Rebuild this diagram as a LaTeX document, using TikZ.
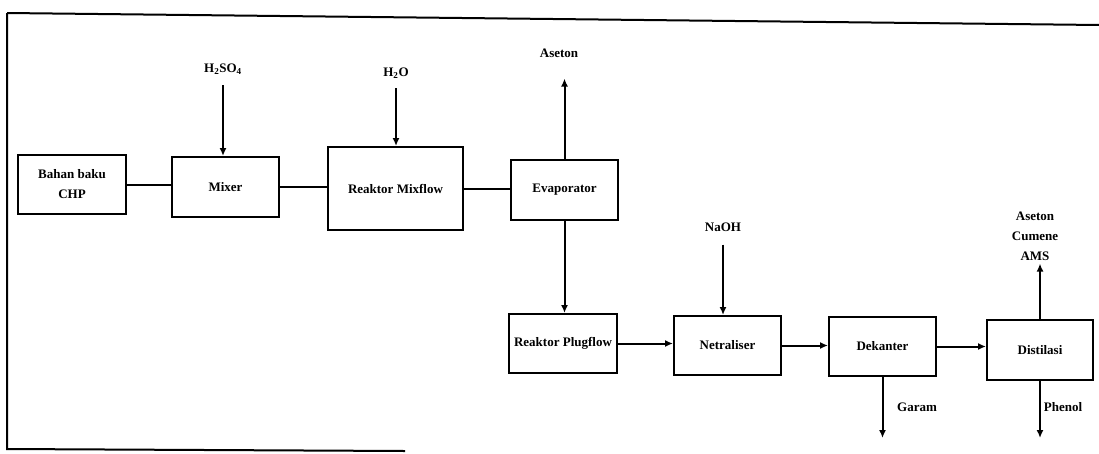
\documentclass[tikz,border=0pt]{standalone}
\usepackage{fontspec}
\setmainfont{Liberation Serif}
\usetikzlibrary{arrows.meta, positioning}
\newcommand{\pfdfont}{\bfseries\fontsize{13}{20}\selectfont}

\begin{document}
\begin{tikzpicture}[
  x=1pt, y=-1pt,
  unit/.style={rectangle, draw, line width=2pt, minimum width=107pt, minimum height=59pt,
               align=center, font=\pfdfont, inner sep=2pt},
  stream/.style={font=\pfdfont, align=center, inner sep=1pt},
  link/.style={line width=2pt},
  arr/.style={-{Latex[length=8pt, width=7pt]}, line width=2pt}
]
\useasboundingbox (0,0) rectangle (1099,453);

% frame of the scan
\draw[link] (7,13) -- (1099,25);
\draw[link] (7,13) -- (7,449) -- (405,451);

% units
\node[unit, minimum width=108pt] (bahan) at (72,184.5) {Bahan baku\\CHP};
\node[unit, minimum height=60pt] (mixer) at (225.5,187) {Mixer};
\node[unit, minimum width=135pt, minimum height=83pt] (mixflow) at (395.5,188.5) {Reaktor Mixflow};
\node[unit, minimum height=60pt] (evap) at (564.5,190) {Evaporator};
\node[unit, minimum width=108pt] (plugflow) at (563,343.5) {Reaktor Plugflow};
\node[unit] (netral) at (727.5,345.5) {Netraliser};
\node[unit] (dekanter) at (882.5,346.5) {Dekanter};
\node[unit, minimum width=106pt, minimum height=60pt] (distilasi) at (1040,350) {Distilasi};

% streams
\node[stream] (h2so4) at (223,69) {H\textsubscript{2}SO\textsubscript{4}};
\node[stream] (h2o) at (396,73) {H\textsubscript{2}O};
\node[stream] (aseton) at (559,53) {Aseton};
\node[stream] (naoh) at (723,227) {NaOH};
\node[stream] (atas) at (1035,236) {Aseton\\Cumene\\AMS};
\node[stream] (garam) at (917,407) {Garam};
\node[stream] (phenol) at (1063,407) {Phenol};
\coordinate (garamend) at (886,438);
\coordinate (phenolend) at (1036,438);

% upper line
\draw[link] (bahan.east) -- (bahan.east -| mixer.west);
\draw[link] (mixer.east) -- (mixer.east -| mixflow.west);
\draw[link] (mixflow.east) -- (mixflow.east -| evap.west);

\draw[arr, shorten <=10pt] (h2so4.south) -- (h2so4.south |- mixer.north);
\draw[arr, shorten <=9pt] (h2o.south) -- (h2o.south |- mixflow.north);
\draw[arr, shorten >=20pt] (evap.north) -- (evap.north |- aseton.south);
\draw[arr] (evap.south) -- (evap.south |- plugflow.north);

% lower line
\draw[arr] (plugflow.east) -- (plugflow.east -| netral.west);
\draw[arr] (netral.east) -- (netral.east -| dekanter.west);
\draw[arr] (dekanter.east) -- (dekanter.east -| distilasi.west);

\draw[arr, shorten <=12pt] (naoh.south) -- (naoh.south |- netral.north);
\draw[arr, shorten >=2pt] (distilasi.north) -- (distilasi.north |- atas.south);
\draw[arr] (dekanter.south) -- (dekanter.south |- garamend);
\draw[arr] (distilasi.south) -- (distilasi.south |- phenolend);
\end{tikzpicture}
\end{document}
